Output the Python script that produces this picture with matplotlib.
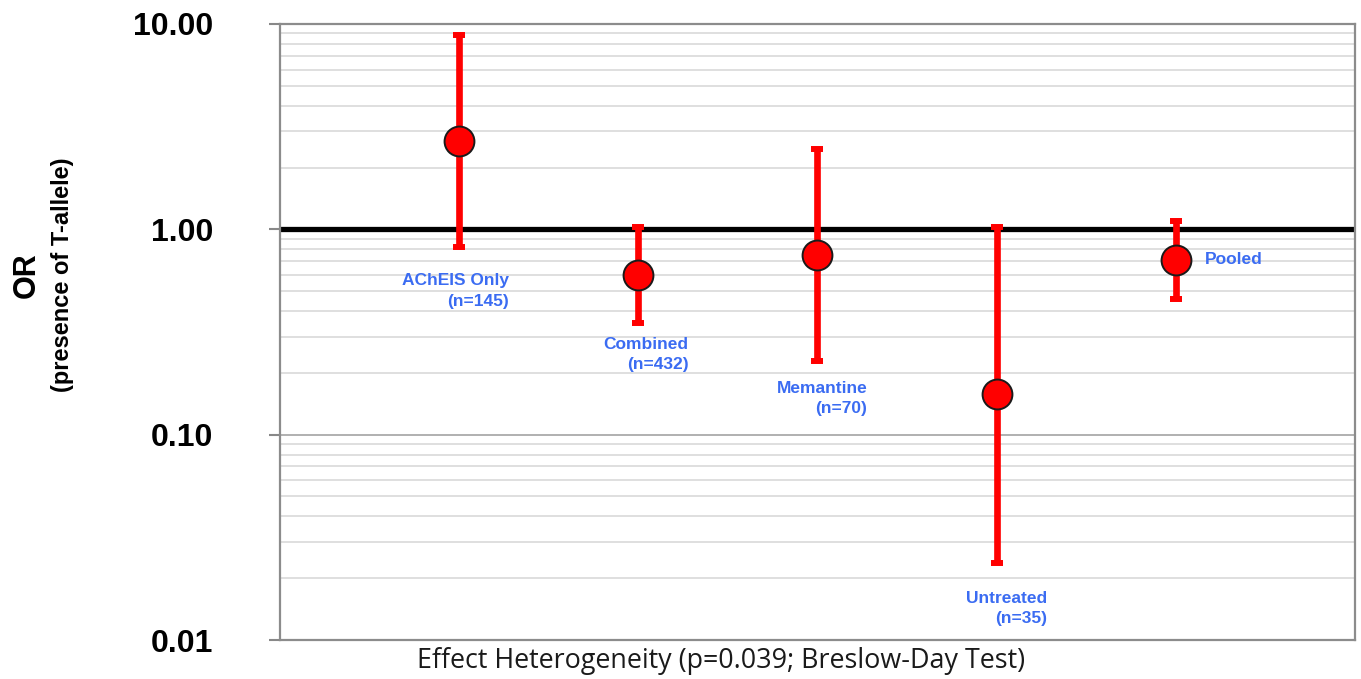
import numpy as np
import matplotlib
matplotlib.use('Agg')
import matplotlib.pyplot as plt
from matplotlib.ticker import LogLocator, NullFormatter, FixedLocator

# odds ratios (presence of T-allele) with 95% CI
groups = ['AChEIS Only', 'Combined', 'Memantine', 'Untreated', 'Pooled']
counts = ['(n=145)', '(n=432)', '(n=70)', '(n=35)', '']
odds = [2.68, 0.60, 0.75, 0.157, 0.71]
ci_low = [0.82, 0.35, 0.228, 0.0237, 0.46]
ci_high = [8.8, 1.03, 2.45, 1.03, 1.10]

plt.rcParams['font.family'] = ['Liberation Sans', 'DejaVu Sans']

fig = plt.figure(figsize=(13.61, 6.79), dpi=100)
ax = fig.add_axes([0.2057, 0.0574, 0.7899, 0.9073])

x = np.arange(1, len(groups) + 1)
odds_a = np.array(odds)
yerr = [odds_a - np.array(ci_low), np.array(ci_high) - odds_a]

ax.axhline(1.0, color='black', lw=3.8, zorder=2)
ax.errorbar(x, odds, yerr=yerr, fmt='none', ecolor='#ff0000', elinewidth=4.8,
            capsize=4, capthick=4.3, zorder=3)
ax.plot(x, odds, 'o', ms=21.5, mfc='#ff0000', mec='#1a1a1a', mew=1.4, zorder=4)

# group labels (right aligned under the lower cap, Pooled to the right)
blue = '#3b6cf2'
label_dy = [-19, -10, -14, -20]
for i in range(len(groups)):
    if counts[i]:
        ax.annotate(groups[i] + '\n' + counts[i], (x[i], ci_low[i]),
                    xytext=(36, label_dy[i]), textcoords='offset points',
                    ha='right', va='top', multialignment='right', color=blue,
                    fontsize=12.5, fontweight='bold', linespacing=1.45)
    else:
        ax.annotate(groups[i], (x[i], odds[i]), xytext=(21, 0),
                    textcoords='offset points', ha='left', va='center',
                    color=blue, fontsize=12.5, fontweight='bold')

ax.set_yscale('log')
ax.set_ylim(0.01, 10)
ax.set_xlim(0, 6)
ax.set_xticks([])
ax.yaxis.set_major_locator(FixedLocator([0.01, 0.1, 1, 10]))
ax.set_yticklabels(['0.01', '0.10', '1.00', '10.00'], fontsize=23, fontweight='bold')
ax.yaxis.set_minor_locator(LogLocator(base=10, subs=np.arange(2, 10)))
ax.yaxis.set_minor_formatter(NullFormatter())
ax.tick_params(axis='y', which='major', length=8, width=1.5, color='#888888', pad=40)
ax.tick_params(axis='y', which='minor', length=0)
ax.grid(True, which='minor', axis='y', color='#dcdcdc', lw=1.3, zorder=0)
ax.grid(True, which='major', axis='y', color='#b0b0b0', lw=1.4, zorder=0)
for s in ax.spines.values():
    s.set_color('#8c8c8c')
    s.set_linewidth(1.6)

fig.text(0.0195, 0.595, 'OR', rotation=90, ha='center', va='center',
         fontsize=22, fontweight='bold')
fig.text(0.046, 0.595, '(presence of T-allele)', rotation=90, ha='center',
         va='center', fontsize=17, fontweight='bold')
fig.text(0.53, 0.026, 'Effect Heterogeneity (p=0.039; Breslow-Day Test)',
         ha='center', va='center', fontsize=19.4, family='Open Sans',
         color='#1a1a1a')

fig.savefig('out.png', dpi=100)
